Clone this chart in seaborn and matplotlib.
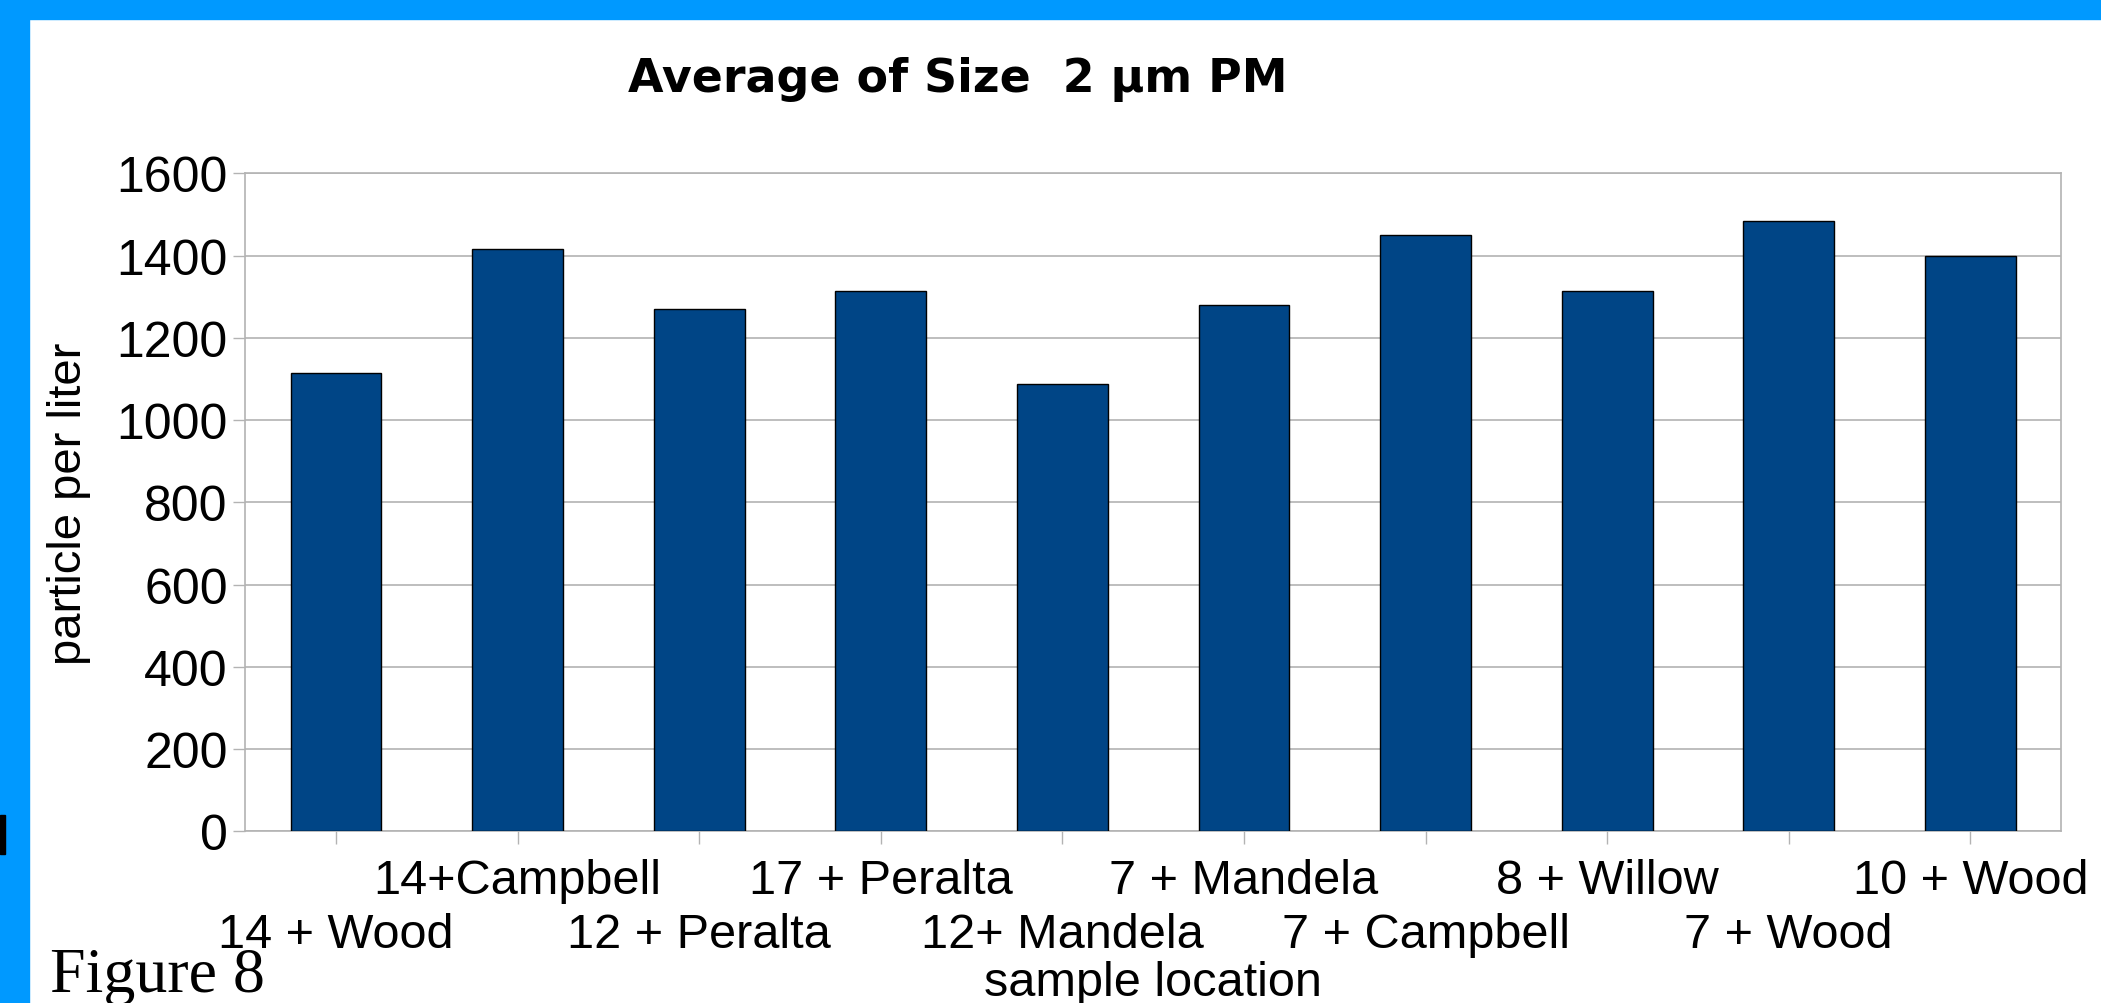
import matplotlib
matplotlib.use("Agg")
import matplotlib.pyplot as plt
import matplotlib.patches as mpatches
import seaborn as sns
import pandas as pd

locations = ['14 + Wood', '14+Campbell', '12 + Peralta', '17 + Peralta',
             '12+ Mandela', '7 + Mandela', '7 + Campbell', '8 + Willow',
             '7 + Wood', '10 + Wood']
particles = [1114, 1417, 1271, 1313, 1088, 1279, 1450, 1315, 1484, 1398]
y_ticks = [0, 200, 400, 600, 800, 1000, 1200, 1400, 1600]

BAR_COLOR = '#004586'
GRID_COLOR = '#b3b3b3'
FRAME_BLUE = '#0099ff'
SANS = ['Liberation Sans Narrow', 'Liberation Sans', 'DejaVu Sans']


def main():
    sns.set_style('white')
    plt.rcParams['font.family'] = ['Liberation Sans', 'DejaVu Sans']
    plt.rcParams['text.color'] = 'black'
    plt.rcParams['xtick.labelcolor'] = 'black'
    plt.rcParams['ytick.labelcolor'] = 'black'
    plt.rcParams['axes.labelcolor'] = 'black'

    df = pd.DataFrame({'location': locations, 'particles': particles})

    fig = plt.figure(figsize=(21.01, 10.04), dpi=100)
    fig.patch.set_facecolor('white')
    # blue slide frame
    fig.patches.append(mpatches.Rectangle((0, 0.98), 1, 0.02, transform=fig.transFigure,
                                          color=FRAME_BLUE, zorder=0))
    fig.patches.append(mpatches.Rectangle((0, 0), 0.014, 1, transform=fig.transFigure,
                                          color=FRAME_BLUE, zorder=0))
    fig.patches.append(mpatches.Rectangle((0, 0.148), 0.0025, 0.039, transform=fig.transFigure,
                                          color='black', zorder=1))

    ax = fig.add_axes([0.1167, 0.1709, 0.8643, 0.6555])
    sns.barplot(data=df, x='location', y='particles', color=BAR_COLOR, saturation=1,
                edgecolor='black', linewidth=1, width=0.5, ax=ax, zorder=3)

    ax.set_xlim(-0.5, len(locations) - 0.5)
    ax.set_ylim(0, 1600)
    ax.set_yticks(y_ticks)
    ax.set_yticklabels([str(v) for v in y_ticks], family=SANS, fontsize=36)
    ax.yaxis.grid(True, color=GRID_COLOR, linewidth=1.2, zorder=0)
    ax.set_axisbelow(True)

    # odd labels on the upper row (major ticks), even ones on the lower row (minor ticks)
    idx = list(range(len(locations)))
    ax.set_xticks(idx[1::2], labels=locations[1::2], family=SANS, fontsize=35)
    ax.set_xticks(idx[0::2], labels=locations[0::2], minor=True, family=SANS, fontsize=35)

    ax.tick_params(axis='both', which='both', direction='out', length=9, width=1,
                   color=GRID_COLOR, bottom=True, left=True)
    ax.tick_params(axis='x', which='major', pad=10)
    ax.tick_params(axis='x', which='minor', pad=49)
    for sp in ax.spines.values():
        sp.set_color(GRID_COLOR)
        sp.set_linewidth(1.2)

    ax.set_xlabel('sample location', family=SANS, fontsize=35, labelpad=2)
    ax.set_ylabel('particle per liter', fontsize=34, labelpad=18)

    fig.text(0.456, 0.921, 'Average of Size  2 µm PM', ha='center', va='center',
             fontsize=33, fontweight='bold', family='DejaVu Sans')
    fig.text(0.024, 0.012, 'Figure 8', ha='left', va='baseline', fontsize=46,
             family=['Liberation Serif', 'DejaVu Serif'])

    fig.savefig('out.png', dpi=100)


if __name__ == '__main__':
    main()
